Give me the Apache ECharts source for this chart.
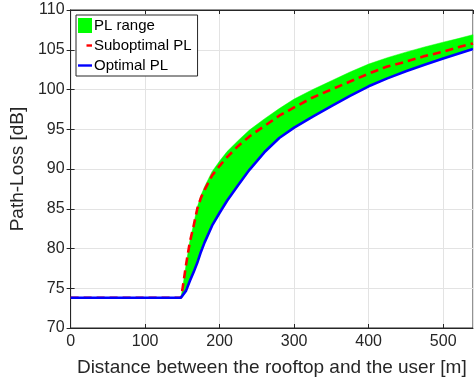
<!DOCTYPE html>
<html>
<head>
<meta charset="utf-8">
<script src="https://cdn.jsdelivr.net/npm/echarts@6/dist/echarts.min.js"></script>
<style>
  html, body { margin: 0; padding: 0; background: #fff; }
  #chart { width: 476px; height: 384px; }
</style>
</head>
<body>
<div id="chart"></div>
<script>
// distance between rooftop and user [m]
const distance = [0, 100, 148, 150, 155, 160, 165, 170, 175, 180, 190, 200, 210, 225, 240, 260, 280, 300, 325, 350, 375, 400, 425, 450, 475, 500, 520, 540];
// optimal PL (lower edge of range) [dB]
const optimalPL = [73.8, 73.8, 73.8, 73.9, 74.7, 75.9, 77.0, 78.2, 79.6, 80.8, 82.9, 84.5, 86.0, 88.0, 89.9, 92.1, 93.9, 95.2, 96.6, 97.9, 99.2, 100.4, 101.4, 102.3, 103.1, 103.9, 104.5, 105.1];
// suboptimal PL [dB]
const suboptimalPL = [73.8, 73.8, 73.8, 74.8, 78.0, 80.8, 82.8, 85.0, 86.4, 87.4, 89.2, 90.4, 91.5, 92.9, 94.1, 95.4, 96.7, 97.75, 99.0, 100.0, 101.0, 102.0, 102.9, 103.5, 104.2, 104.75, 105.3, 105.8];
// upper edge of PL range [dB]
const upperPL = [73.8, 73.8, 73.8, 74.8, 78.0, 80.9, 83.0, 85.2, 86.7, 87.8, 89.7, 91.0, 92.2, 93.6, 94.9, 96.3, 97.6, 98.8, 100.0, 101.1, 102.2, 103.2, 104.0, 104.7, 105.35, 105.95, 106.4, 106.9];

const xTicks = [0, 100, 200, 300, 400, 500];
const yTicks = [70, 75, 80, 85, 90, 95, 100, 105, 110];

const dark = "#262626";
const font = "Liberation Sans, Arial, Helvetica, sans-serif";

const pairs = (ys) => distance.map((d, i) => [d, ys[i]]);
const rangeRows = distance.map((d, i) => [d, optimalPL[i], upperPL[i]]);

// short line legend icons (box 14x15, the M points fix the bounding box)
const blueIcon = "path://M0,0 M0,6.3 L14,6.3 L14,8.7 L0,8.7 Z M14,15";
const redIcon = "path://M0,0 M8.5,6.3 L14,6.3 L14,8.7 L8.5,8.7 Z M14,15";

const chart = echarts.init(document.getElementById("chart"));
chart.setOption({
  animation: false,
  textStyle: { fontFamily: font },
  grid: {
    left: 70, right: 3, top: 10, bottom: 56,
    show: true, borderColor: dark, borderWidth: 1, backgroundColor: "#fff",
  },
  legend: {
    orient: "vertical",
    left: 76, top: 15,
    padding: [3, 6, 3, 2],
    itemGap: 5,
    itemWidth: 14,
    itemHeight: 15,
    backgroundColor: "#fff",
    borderColor: dark,
    borderWidth: 1,
    textStyle: { fontSize: 15, color: "#000", fontFamily: font, padding: [0, 0, 0, -3] },
    data: [
      { name: "PL range", icon: "rect", itemStyle: { color: "#00ff00" } },
      { name: "Suboptimal PL", icon: redIcon, itemStyle: { color: "#ff0000" } },
      { name: "Optimal PL", icon: blueIcon, itemStyle: { color: "#0000ff" } },
    ],
  },
  xAxis: [
    {
      type: "value",
      min: 0, max: 540, interval: 100,
      name: "Distance between the rooftop and the user [m]",
      nameLocation: "middle",
      nameGap: 30,
      nameTextStyle: { fontSize: 19, color: dark, fontFamily: font },
      axisLine: { lineStyle: { color: dark } },
      axisTick: { inside: true, length: 4, lineStyle: { color: dark } },
      axisLabel: {
        fontSize: 16, color: dark, margin: 6, showMaxLabel: false,
        formatter: (v) => (xTicks.includes(v) ? String(v) : ""),
      },
      splitLine: { show: true, lineStyle: { color: "#e3e3e3" } },
    },
    {
      type: "value", position: "top",
      min: 0, max: 540, interval: 100,
      axisLine: { show: true, lineStyle: { color: dark } },
      axisTick: { show: true, inside: true, length: 4, lineStyle: { color: dark } },
      axisLabel: { show: false },
      splitLine: { show: false },
    },
  ],
  yAxis: [
    {
      type: "value",
      min: 70, max: 110, interval: 5,
      name: "Path-Loss [dB]",
      nameLocation: "middle",
      nameGap: 37,
      nameTextStyle: { fontSize: 19, color: dark, fontFamily: font },
      axisLine: { show: true, lineStyle: { color: dark } },
      axisTick: { show: true, inside: true, length: 4, lineStyle: { color: dark } },
      axisLabel: {
        fontSize: 16, color: dark, margin: 6,
        formatter: (v) => (yTicks.includes(v) ? String(v) : ""),
      },
      splitLine: { show: true, lineStyle: { color: "#e3e3e3" } },
    },
    {
      type: "value", position: "right",
      min: 70, max: 110, interval: 5,
      axisLine: { show: true, lineStyle: { color: dark } },
      axisTick: { show: true, inside: true, length: 4, lineStyle: { color: dark } },
      axisLabel: { show: false },
      splitLine: { show: false },
    },
  ],
  series: [
    {
      name: "PL range",
      type: "custom",
      data: rangeRows,
      itemStyle: { color: "#00ff00" },
      z: 1,
      renderItem(params, api) {
        if (params.dataIndex !== 0) return null;
        const pts = [];
        rangeRows.forEach((r) => pts.push(api.coord([r[0], r[2]])));
        for (let i = rangeRows.length - 1; i >= 0; i--) {
          pts.push(api.coord([rangeRows[i][0], rangeRows[i][1]]));
        }
        return {
          type: "polygon",
          shape: { points: pts, smooth: 0 },
          style: { fill: "#00ff00", stroke: "#00ff00", lineWidth: 0.5 },
        };
      },
    },
    {
      name: "Suboptimal PL",
      type: "line",
      data: pairs(suboptimalPL),
      symbol: "none",
      itemStyle: { color: "#ff0000" },
      lineStyle: { color: "#ff0000", width: 2.6, type: [8, 5] },
      z: 3,
    },
    {
      name: "Optimal PL",
      type: "line",
      data: pairs(optimalPL),
      symbol: "none",
      itemStyle: { color: "#0000ff" },
      lineStyle: { color: "#0000ff", width: 2.6 },
      z: 4,
    },
  ],
});
</script>
</body>
</html>
